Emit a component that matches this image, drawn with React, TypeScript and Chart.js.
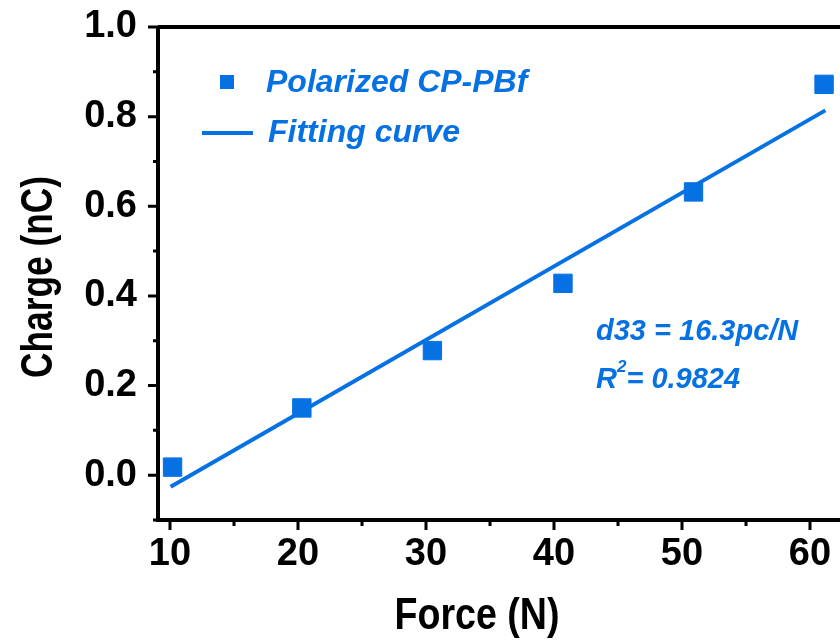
import React, { useEffect, useRef } from 'react';
import { Chart, registerables } from 'chart.js';

Chart.register(...registerables);

// ---- data ----
const forceN = [10.2, 20.3, 30.5, 40.7, 50.9, 61.1];
const chargeNC = [0.018, 0.15, 0.278, 0.428, 0.632, 0.872];
const fitForce = [10.05, 61.2];
const fitCharge = [-0.026, 0.814];
const xMajorTicks = [10, 20, 30, 40, 50, 60];
const xMinorTicks = [15, 25, 35, 45, 55];
const yMajorTicks = [0, 0.2, 0.4, 0.6, 0.8, 1.0];
const yMinorTicks = [-0.1, 0.1, 0.3, 0.5, 0.7, 0.9];
const seriesLabels = ['Polarized CP-PBf', 'Fitting curve'];
const xTitle = 'Force (N)';
const yTitle = 'Charge (nC)';
const noteLine1 = 'd33 = 16.3pc/N';
const noteR = 'R';
const noteSup = '2';
const noteRest = '= 0.9824';

const BLUE = '#0671E3';
const FONT = '"Liberation Sans", Arial, sans-serif';

const stretchPlugin = {
  id: 'stretchRight',
  afterLayout(chart: any) {
    const ca = chart.chartArea;
    ca.right = chart.width;
    ca.width = ca.right - ca.left;
    const xs = chart.scales.x;
    xs.right = chart.width;
    xs.width = xs.right - xs.left;
    xs.configure();
  },
};

const decorPlugin = {
  id: 'decor',
  afterDraw(chart: any) {
    const { ctx, chartArea, scales } = chart;
    const xs = scales.x;
    const ys = scales.y;
    const L = chartArea.left;
    const B = chartArea.bottom;
    const T = chartArea.top;
    const R = chart.width;
    ctx.save();
    ctx.strokeStyle = '#000';
    ctx.lineCap = 'butt';
    // axes frame
    ctx.lineWidth = 4;
    ctx.beginPath();
    ctx.moveTo(L, T);
    ctx.lineTo(L, B + 2);
    ctx.moveTo(L - 2, B);
    ctx.lineTo(R, B);
    ctx.moveTo(L, T);
    ctx.lineTo(R, T);
    ctx.stroke();
    // ticks
    ctx.lineWidth = 3;
    ctx.beginPath();
    yMajorTicks.forEach((v) => {
      const y = ys.getPixelForValue(v);
      ctx.moveTo(L - 10, y);
      ctx.lineTo(L, y);
    });
    yMinorTicks.forEach((v) => {
      const y = ys.getPixelForValue(v);
      ctx.moveTo(L - 5, y);
      ctx.lineTo(L, y);
    });
    xMajorTicks.forEach((v) => {
      const x = xs.getPixelForValue(v);
      ctx.moveTo(x, B);
      ctx.lineTo(x, B + 10);
    });
    xMinorTicks.forEach((v) => {
      const x = xs.getPixelForValue(v);
      ctx.moveTo(x, B);
      ctx.lineTo(x, B + 6);
    });
    ctx.stroke();

    // axis titles (condensed bold)
    ctx.fillStyle = '#000';
    ctx.font = `bold 45px ${FONT}`;
    ctx.textBaseline = 'alphabetic';
    ctx.textAlign = 'center';
    let w = ctx.measureText(xTitle).width;
    ctx.save();
    ctx.translate(477, 629);
    ctx.scale(165 / w, 1);
    ctx.fillText(xTitle, 0, 0);
    ctx.restore();
    w = ctx.measureText(yTitle).width;
    ctx.save();
    ctx.translate(52, 277);
    ctx.rotate(-Math.PI / 2);
    ctx.scale(202 / w, 1);
    ctx.fillText(yTitle, 0, 0);
    ctx.restore();

    // legend
    const ds = chart.data.datasets;
    ctx.textAlign = 'left';
    ctx.fillStyle = ds[0].backgroundColor;
    ctx.fillRect(220, 75, 14, 14);
    ctx.font = `italic bold 32px ${FONT}`;
    ctx.fillText(ds[0].label, 266, 92);
    ctx.strokeStyle = ds[1].borderColor;
    ctx.lineWidth = 4;
    ctx.beginPath();
    ctx.moveTo(202, 133);
    ctx.lineTo(253, 133);
    ctx.stroke();
    ctx.fillStyle = ds[1].borderColor;
    ctx.fillText(ds[1].label, 268, 142);

    // annotation
    ctx.fillStyle = BLUE;
    ctx.font = `italic bold 29px ${FONT}`;
    ctx.fillText(noteLine1, 596, 340);
    ctx.fillText(noteR, 596, 388);
    let x = 596 + ctx.measureText(noteR).width;
    ctx.font = `italic bold 17px ${FONT}`;
    ctx.fillText(noteSup, x, 372);
    x += ctx.measureText(noteSup).width;
    ctx.font = `italic bold 29px ${FONT}`;
    ctx.fillText(noteRest, x, 388);
    ctx.restore();
  },
};

const zeroPad = (s: any) => {
  s.paddingTop = 0;
  s.paddingBottom = 0;
  s.paddingLeft = 0;
  s.paddingRight = 0;
};

export default function App() {
  const ref = useRef<HTMLCanvasElement | null>(null);
  useEffect(() => {
    if (!ref.current) return;
    const chart = new Chart(ref.current, {
      type: 'scatter',
      data: {
        datasets: [
          {
            label: seriesLabels[0],
            data: forceN.map((f, i) => ({ x: f, y: chargeNC[i] })),
            backgroundColor: BLUE,
            borderColor: BLUE,
            borderWidth: 1,
            pointStyle: 'rect',
            pointRadius: 13,
            pointHoverRadius: 13,
            showLine: false,
          },
          {
            label: seriesLabels[1],
            data: fitForce.map((f, i) => ({ x: f, y: fitCharge[i] })),
            borderColor: BLUE,
            backgroundColor: BLUE,
            borderWidth: 4,
            pointRadius: 0,
            showLine: true,
            borderCapStyle: 'butt',
          },
        ],
      },
      options: {
        responsive: false,
        animation: false,
        clip: false,
        layout: { padding: { top: 27, right: 0, left: 0, bottom: 0 } },
        plugins: {
          legend: { display: false },
          tooltip: { enabled: false },
          title: { display: false },
        },
        scales: {
          x: {
            type: 'linear',
            min: 9.0625,
            max: 62.344,
            grid: { display: false, drawTicks: false },
            border: { display: false },
            afterBuildTicks: (s: any) => {
              s.ticks = xMajorTicks.map((v) => ({ value: v }));
            },
            afterFit: (s: any) => {
              s.height = 124;
              zeroPad(s);
            },
            ticks: {
              padding: 12,
              color: '#000',
              font: { family: FONT, size: 38, weight: 'bold' },
              callback: (v: any) => String(v),
              maxRotation: 0,
              autoSkip: false,
            },
          },
          y: {
            type: 'linear',
            min: -0.1,
            max: 1.0,
            grid: { display: false, drawTicks: false },
            border: { display: false },
            afterBuildTicks: (s: any) => {
              s.ticks = yMajorTicks.map((v) => ({ value: v }));
            },
            afterFit: (s: any) => {
              s.width = 158;
              zeroPad(s);
            },
            ticks: {
              padding: 21,
              color: '#000',
              font: { family: FONT, size: 38, weight: 'bold' },
              callback: (v: any) => Number(v).toFixed(1),
              autoSkip: false,
            },
          },
        },
      },
      plugins: [stretchPlugin, decorPlugin],
    });
    return () => chart.destroy();
  }, []);
  return (
    <div style={{ position: 'absolute', left: 0, top: 0, width: 840, height: 644, background: '#fff' }}>
      <canvas ref={ref} width={840} height={644} style={{ display: 'block' }} />
    </div>
  );
}
